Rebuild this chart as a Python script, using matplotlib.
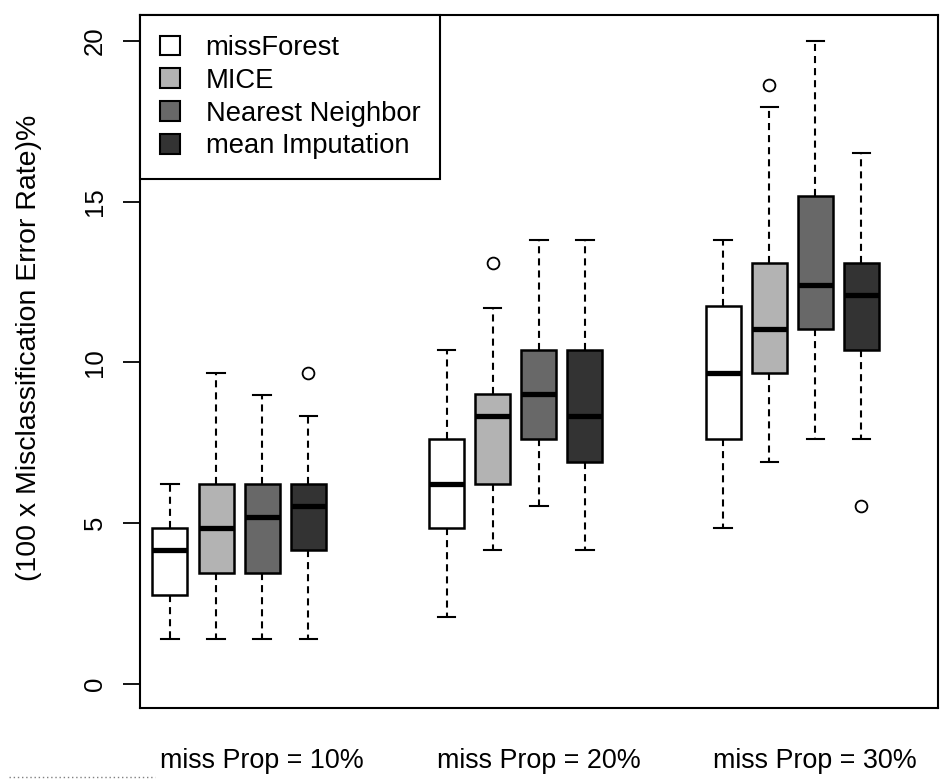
import matplotlib.pyplot as plt
from matplotlib.patches import Patch
from matplotlib.lines import Line2D

plt.rcParams['font.family'] = ['Liberation Sans', 'DejaVu Sans']

methods = ['missForest', 'MICE', 'Nearest Neighbor', 'mean Imputation']
colors = ['#ffffff', '#b3b3b3', '#686868', '#333333']
groups = ['miss Prop = 10%', 'miss Prop = 20%', 'miss Prop = 30%']

# box stats per group, one row per method: whislo, q1, med, q3, whishi
stats_10 = [[1.39, 2.78, 4.17, 4.86, 6.22],
            [1.39, 3.46, 4.86, 6.22, 9.67],
            [1.39, 3.46, 5.20, 6.22, 8.99],
            [1.39, 4.17, 5.52, 6.22, 8.33]]
stats_20 = [[2.07, 4.86, 6.22, 7.61, 10.37],
            [4.17, 6.22, 8.32, 9.01, 11.70],
            [5.54, 7.61, 9.01, 10.39, 13.80],
            [4.17, 6.91, 8.33, 10.39, 13.80]]
stats_30 = [[4.86, 7.61, 9.68, 11.74, 13.79],
            [6.89, 9.68, 11.03, 13.08, 17.93],
            [7.61, 11.03, 12.41, 15.18, 20.00],
            [7.61, 10.37, 12.10, 13.08, 16.50]]
outliers_10 = [[], [], [], [9.67]]
outliers_20 = [[], [13.08], [], []]
outliers_30 = [[], [18.63], [], [5.52]]

all_stats = [stats_10, stats_20, stats_30]
all_outliers = [outliers_10, outliers_20, outliers_30]

fig = plt.figure(figsize=(9.4, 7.82), dpi=100)
ax = fig.add_axes([140 / 940, 1 - 708 / 782, 798 / 940, 693 / 782])

for g, (stats, outs) in enumerate(zip(all_stats, all_outliers)):
    for m in range(4):
        lo, q1, med, q3, hi = stats[m]
        pos = 1 + 6 * g + m
        ax.bxp([dict(whislo=lo, q1=q1, med=med, q3=q3, whishi=hi, fliers=outs[m])],
               positions=[pos], widths=0.76, capwidths=0.38, patch_artist=True,
               boxprops=dict(facecolor=colors[m], edgecolor='black', linewidth=1.8),
               medianprops=dict(color='black', linewidth=3.8, solid_capstyle='butt'),
               whiskerprops=dict(color='black', linewidth=1.5, linestyle=(0, (3.4, 2.4))),
               capprops=dict(color='black', linewidth=1.5),
               flierprops=dict(marker='o', markersize=8.5, markerfacecolor='none',
                               markeredgecolor='black', markeredgewidth=1.3))

ax.set_xlim(0.35, 17.66)
ax.set_ylim(-0.746, 20.8)
ax.set_xticks([3, 9, 15])
ax.set_xticklabels(groups, fontsize=19.4)
ax.tick_params(axis='x', length=0, pad=29)
ax.set_yticks([0, 5, 10, 15, 20])
ax.set_yticklabels(['0', '5', '10', '15', '20'], rotation=90, va='center', fontsize=18.5)
ax.tick_params(axis='y', length=12, width=1.3, pad=12)
for s in ax.spines.values():
    s.set_linewidth(1.5)
ax.set_ylabel('(100 x Misclassification Error Rate)%', fontsize=20.5)
ax.yaxis.set_label_coords(-0.123, 0.519)

handles = [Patch(facecolor=c, edgecolor='black', linewidth=1.5) for c in colors]
leg = ax.legend(handles, methods, loc='upper left', bbox_to_anchor=(0, 1), borderaxespad=0,
                fontsize=19.7, handlelength=0.72, handleheight=0.72, handletextpad=0.95,
                labelspacing=0.25, borderpad=0.73, fancybox=False, framealpha=1)
leg.get_frame().set_edgecolor('black')
leg.get_frame().set_linewidth(1.5)

fig.add_artist(Line2D([0.01, 0.165], [1 - 777 / 782] * 2, linestyle=(0, (1, 2)),
                      color='gray', linewidth=1))

fig.savefig('out.png', dpi=100)
